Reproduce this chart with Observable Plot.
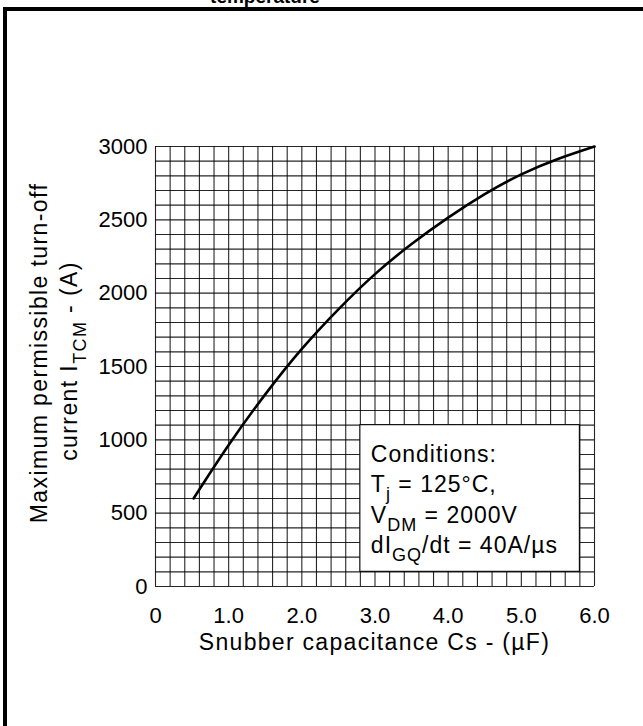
<!DOCTYPE html>
<html><head><meta charset="utf-8">
<script src="https://cdn.jsdelivr.net/npm/d3@7"></script>
<script src="https://cdn.jsdelivr.net/npm/@observablehq/plot@0.6"></script>
<style>
body{margin:0;background:#fff;}
#wrap{position:relative;width:643px;height:726px;overflow:hidden;font-family:"Liberation Sans",Arial,sans-serif;}
#chart{position:absolute;left:0;top:0;}
#title{position:absolute;left:0;width:530px;text-align:center;top:-13px;font-weight:bold;font-size:19px;line-height:19px;}
#frameT{position:absolute;left:3px;top:7px;width:640px;height:4px;background:#000;}
#frameL{position:absolute;left:3px;top:7px;width:4px;height:719px;background:#000;}
</style></head><body>
<div id="wrap"><div id="chart"></div><div id="title">temperature</div><div id="frameT"></div><div id="frameL"></div></div>
<script>
// Curve
const capacitance = [0.52, 1.0, 1.5, 2.0, 2.5, 3.0, 3.5, 4.0, 4.5, 5.0, 5.5, 6.0];
const current     = [600,  965, 1310, 1620, 1890, 2130, 2335, 2515, 2675, 2810, 2915, 3000];
// Axis ticks and grid
const xTicks = [0, 1, 2, 3, 4, 5, 6];
const yTicks = [0, 500, 1000, 1500, 2000, 2500, 3000];
const xGrid = d3.range(0, 31).map(i => i / 5);
const yGrid = d3.range(0, 31).map(i => i * 100);
// Conditions box (data coordinates) and text
const boxX = [2.8, 5.8];
const boxY = [100, 1100];
const conditionLines = [
  [["Conditions:"]],
  [["T"], ["j", true], [" = 125°C,"]],
  [["V"], ["DM", true], [" = 2000V"]],
  [["dI"], ["GQ", true], ["/dt = 40A/µs"]]
];
const xLabel = [["Snubber capacitance Cs - (µF)"]];
const yLabel1 = [["Maximum permissible turn-off"]];
const yLabel2 = [["current I"], ["TCM", true], [" - (A)"]];

const data = capacitance.map((c, i) => ({c, i: current[i]}));

const chart = Plot.plot({
  width: 643, height: 726,
  marginLeft: 155, marginRight: 49, marginTop: 146, marginBottom: 140,
  style: {fontFamily: "Liberation Sans, Arial, sans-serif", fontSize: "22px", background: "transparent", color: "#000"},
  x: {domain: [0, 6]},
  y: {domain: [0, 3000]},
  marks: [
    Plot.ruleX(xGrid, {stroke: "#000", strokeOpacity: 0.85, strokeWidth: 1.1}),
    Plot.ruleY(yGrid, {stroke: "#000", strokeOpacity: 0.85, strokeWidth: 1.1}),
    Plot.rect([0], {x1: () => boxX[0], x2: () => boxX[1], y1: () => boxY[0], y2: () => boxY[1], fill: "#fff", stroke: "#000", strokeWidth: 1.1}),
    Plot.line(data, {x: "c", y: "i", stroke: "#000", strokeWidth: 2.6, curve: "natural"}),
    Plot.axisX({ticks: xTicks, tickSize: 0, tickPadding: 21, fontSize: 22, label: null,
      tickFormat: d => d === 0 ? "0" : d.toFixed(1)}),
    Plot.axisY({ticks: yTicks, tickSize: 0, tickPadding: 8, fontSize: 22, label: null,
      tickFormat: d => String(d)})
  ]
});
document.getElementById("chart").appendChild(chart);

const sx = chart.scale("x"), sy = chart.scale("y");
const svg = d3.select(chart);

function rich(sel, parts, subSize, shift) {
  let prevSub = false;
  parts.forEach(([t, sub]) => {
    const ts = sel.append("tspan").text(t);
    if (sub && !prevSub) ts.attr("dy", shift);
    if (!sub && prevSub) ts.attr("dy", -shift);
    if (sub) ts.attr("font-size", subSize);
    prevSub = !!sub;
  });
}

// Conditions text
const cx0 = sx.apply(boxX[0]) + 11;
const cy0 = sy.apply(boxY[1]) + 37;
conditionLines.forEach((parts, k) => {
  const t = svg.append("text").attr("x", cx0).attr("y", cy0 + k * 30.5)
    .attr("text-anchor", "start")
    .attr("font-size", 23).attr("letter-spacing", "1px").attr("fill", "#000");
  rich(t, parts, 18, 8);
});

// X label
const xMid = (sx.apply(0) + sx.apply(6)) / 2;
const xl = svg.append("text").attr("x", xMid).attr("y", sy.apply(0) + 64)
  .attr("text-anchor", "middle").attr("font-size", 23).attr("letter-spacing", "1.3px");
rich(xl, xLabel, 18, 8);

// Y labels
const yMid = (sy.apply(0) + sy.apply(3000)) / 2;
const yl1 = svg.append("text").attr("transform", `translate(${sx.apply(0) - 108},${yMid - 13}) rotate(-90)`)
  .attr("text-anchor", "middle").attr("font-size", 23).attr("letter-spacing", "1.4px");
rich(yl1, yLabel1, 18, 8);
const yl2 = svg.append("text").attr("transform", `translate(${sx.apply(0) - 78},${yMid - 5}) rotate(-90)`)
  .attr("text-anchor", "middle").attr("font-size", 23).attr("letter-spacing", "1.4px");
rich(yl2, yLabel2, 18, 9);
</script>
</body></html>
